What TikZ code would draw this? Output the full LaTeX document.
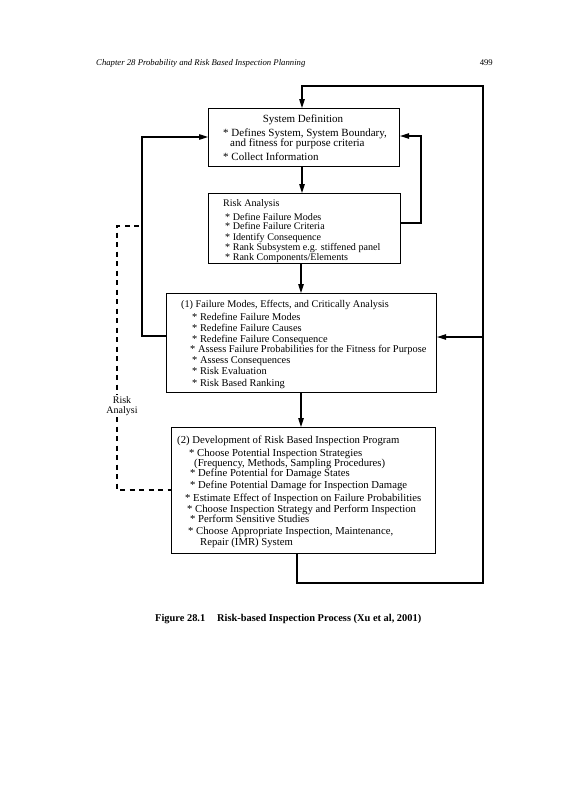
\documentclass[tikz,border=0pt]{standalone}
\usepackage{fontspec}
\setmainfont{Liberation Serif}
\usetikzlibrary{arrows.meta}
\begin{document}
\begin{tikzpicture}[x=1pt,y=-1pt,
  box/.style={draw, line width=1.1pt, inner sep=0pt, anchor=north west},
  txt/.style={anchor=base west, inner sep=0pt, font=\fontsize{10.4}{12}\selectfont},
  txta/.style={txt, font=\fontsize{11}{12}\selectfont},
  txtb/.style={txt, font=\fontsize{10.1}{12}\selectfont},
  txtd/.style={txt, font=\fontsize{10.7}{12}\selectfont},
  arr/.style={line width=1.1pt, -{Triangle[length=9pt,width=5.5pt]}},
  dsh/.style={line width=1.1pt, dash pattern=on 5pt off 4.5pt}]
\useasboundingbox (0,0) rectangle (575,800);
\fill[white] (0,0) rectangle (575,800);

% header
\node[anchor=base west, inner sep=0pt, font=\fontsize{8.7}{10}\selectfont\itshape] (hdr) at (96,66) {Chapter 28 Probability and Risk Based Inspection Planning};
\node[anchor=base east, inner sep=0pt, font=\fontsize{8.7}{10}\selectfont] (pg) at (493,66) {499};

% boxes
\node[box, minimum width=191pt, minimum height=58pt] (sd) at (208,108) {};
\node[box, minimum width=192pt, minimum height=70pt] (ra) at (208,193) {};
\node[box, minimum width=270pt, minimum height=99pt] (fm) at (166,293) {};
\node[box, minimum width=264pt, minimum height=126pt] (dp) at (171,427) {};

% box 1 text
\node[txta, anchor=base] (sd0) at (303,122.5) {System Definition};
\node[txta] (sd1) at (223,136.5) {* Defines System, System Boundary,};
\node[txta] (sd2) at (230,146.5) {and fitness for purpose criteria};
\node[txta] (sd3) at (223,160.5) {* Collect Information};

% box 2 text
\node[txtb] (ra0) at (223,206.5) {Risk Analysis};
\node[txtb] (ra1) at (225,220.5) {* Define Failure Modes};
\node[txtb] (ra2) at (225,229.5) {* Define Failure Criteria};
\node[txtb] (ra3) at (225,240.5) {* Identify Consequence};
\node[txtb] (ra4) at (225,250.5) {* Rank Subsystem e.g. stiffened panel};
\node[txtb] (ra5) at (225,260) {* Rank Components/Elements};

% box 3 text
\node[txt, font=\fontsize{10.25}{12}\selectfont] (fm0) at (181,307.5) {(1) Failure Modes, Effects, and Critically Analysis};
\node[txt] (fm1) at (192,320.5) {* Redefine Failure Modes};
\node[txt] (fm2) at (192,331.5) {* Redefine Failure Causes};
\node[txt] (fm3) at (192,342) {* Redefine Failure Consequence};
\node[txt] (fm4) at (190,352) {* Assess Failure Probabilities for the Fitness for Purpose};
\node[txt] (fm5) at (192,363.5) {* Assess Consequences};
\node[txt] (fm6) at (192,374.5) {* Risk Evaluation};
\node[txt] (fm7) at (192,386.5) {* Risk Based Ranking};

% box 4 text
\node[txtd] (dp0) at (177,443.5) {(2) Development of Risk Based Inspection Program};
\node[txtd] (dp1) at (189,456.5) {* Choose Potential Inspection Strategies};
\node[txtd] (dp2) at (194,466.5) {(Frequency, Methods, Sampling Procedures)};
\node[txtd] (dp3) at (190,476.5) {* Define Potential for Damage States};
\node[txtd] (dp4) at (190,488.5) {* Define Potential Damage for Inspection Damage};
\node[txtd] (dp5) at (185,501.5) {* Estimate Effect of Inspection on Failure Probabilities};
\node[txtd] (dp6) at (187,512.5) {* Choose Inspection Strategy and Perform Inspection};
\node[txtd] (dp7) at (190,522) {* Perform Sensitive Studies};
\node[txtd] (dp8) at (188,534.5) {* Choose Appropriate Inspection, Maintenance,};
\node[txtd] (dp9) at (200,545.5) {Repair (IMR) System};

% coordinates
\coordinate (tl) at (302,86);
\coordinate (tr) at (483,86);
\coordinate (br) at (483,583);
\coordinate (bl) at (297,583);
\coordinate (rj) at (483,337);
\coordinate (ll1) at (142,336);
\coordinate (ll2) at (142,137);
\coordinate (rl1) at (421,223);
\coordinate (rl2) at (421,136);
\coordinate (m2) at (301,0);

% connectors
\draw[arr] (bl |- dp.south) -- (bl) -- (br) -- (tr) -- (tl) -- (tl |- sd.north);
\draw[arr] (rj) -- (rj -| fm.east);
\draw[arr] (ll1 -| fm.west) -- (ll1) -- (ll2) -- (ll2 -| sd.west);
\draw[arr] (rl1 -| ra.east) -- (rl1) -- (rl2) -- (rl2 -| sd.east);
\draw[arr] (tl |- sd.south) -- (tl |- ra.north);
\draw[arr] (m2 |- ra.south) -- (m2 |- fm.north);
\draw[arr] (m2 |- fm.south) -- (m2 |- dp.north);

% dashed risk analysis line
\coordinate (d1) at (139,226);
\coordinate (d2) at (117,226);
\coordinate (d3) at (117,395);
\coordinate (d4) at (117,417);
\coordinate (d5) at (117,490);
\node[align=center, inner sep=0pt, font=\fontsize{10}{10.5}\selectfont] (risk) at (122,406) {Risk\\Analysi};
\draw[dsh] (d1) -- (d2) -- (d3);
\draw[dsh] (d4) -- (d5) -- (d5 -| dp.west);

% caption
\node[anchor=base west, inner sep=0pt, font=\fontsize{10.4}{12}\selectfont\bfseries] (figno) at (155,621) {Figure 28.1};
\node[anchor=base west, inner sep=0pt, font=\fontsize{10.4}{12}\selectfont\bfseries] (figcap) at (217,621) {Risk-based Inspection Process (Xu et al, 2001)};
\end{tikzpicture}
\end{document}
